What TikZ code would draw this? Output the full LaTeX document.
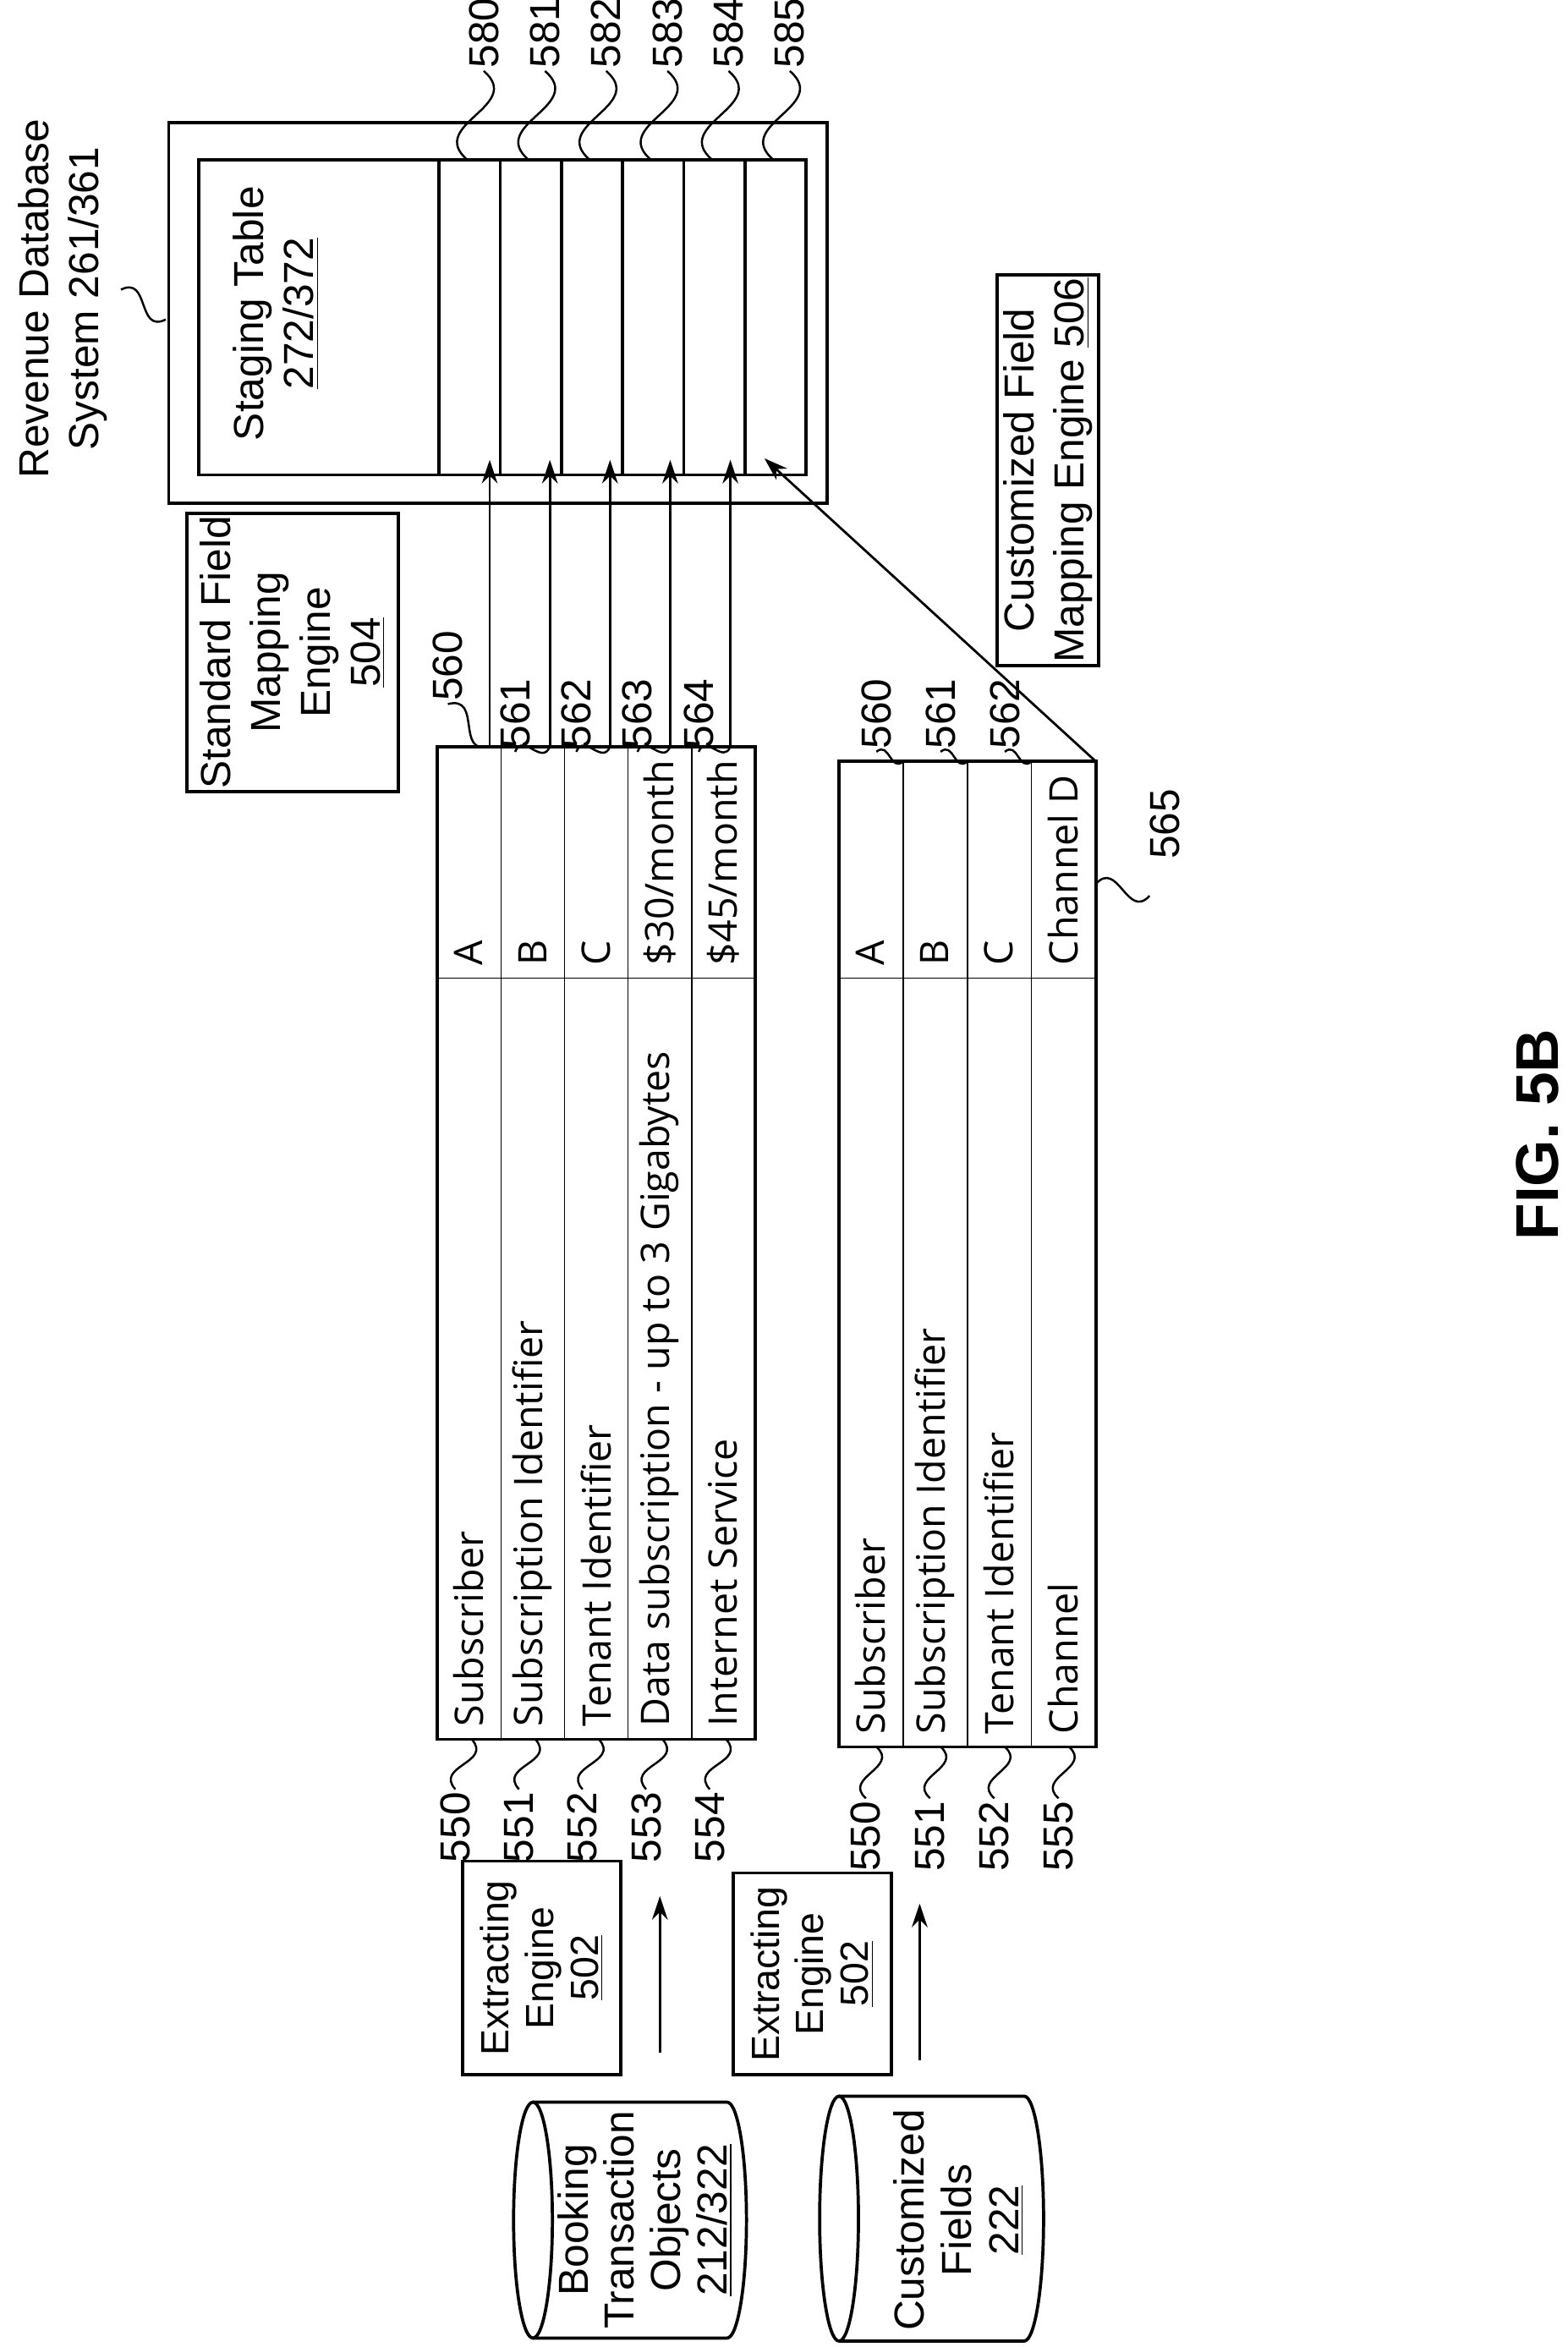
\documentclass[tikz,border=0pt]{standalone}
\usepackage{fontspec}
\setmainfont{Liberation Sans}
\newfontfamily\tabfont{Open Sans}
\usetikzlibrary{arrows.meta,calc}

\tikzset{
  box/.style={draw, line width=1.2pt},
  txt/.style={rotate=90, font=\fontsize{16}{19}\selectfont, align=center, inner sep=1pt},
  cell/.style={rotate=90, anchor=west, font=\tabfont\fontsize{15}{17}\selectfont, inner sep=3pt},
  num/.style={rotate=90, font=\fontsize{16}{18}\selectfont, inner sep=1pt},
  lead/.style={line width=0.8pt},
  flow/.style={-{Stealth[length=9pt,width=6pt]}, line width=0.9pt},
}
\newcommand{\squig}[2]{\draw[lead] (#1) .. controls ($(#1)!.6!60:(#2)$) and ($(#2)!.6!60:(#1)$) .. (#2);}

\begin{document}
\begin{tikzpicture}[x=0.02cm, y=-0.02cm]
  \useasboundingbox (0,0) rectangle (1050,1572);

  % Revenue database system with staging table
  \draw[box] (113,82) rectangle (554,337);
  \draw[box] (133,107) rectangle (540,318);
  \foreach \i in {0,...,5}
    \draw[box] (294+41*\i,107) rectangle (335+41*\i,318);
  \node[txt] (stage) at (185,210) {Staging Table\\\underline{272/372}};
  \node[txt] (rev) at (42,200) {Revenue Database\\System 261/361};
  \squig{81,194}{111,214}

  % staging column labels
  \foreach \n [count=\i from 0] in {580,...,585} {
    \node[num] (s\n) at (324+41*\i,22) {\n};
    \coordinate (c\n) at (313+41*\i,107);
    \squig{s\n.west}{c\n}
  }

  % mapping engines
  \node[box, txt, minimum width=3.62cm, minimum height=2.84cm] (std) at (196,437)
    {Standard Field\\Mapping\\Engine\\\underline{504}};
  \node[box, txt, minimum width=4.96cm, minimum height=1.36cm] (cust) at (702,315)
    {Customized Field\\Mapping Engine \underline{506}};

  % upper record table
  \draw[box] (293,500) rectangle (506,1165);
  \foreach \i in {1,...,4} \draw (293+42.6*\i,500) -- (293+42.6*\i,1165);
  \draw (293,655) -- (506,655);
  \foreach \name/\val [count=\i from 0] in {Subscriber/A, Subscription Identifier/B,
      Tenant Identifier/C, Data subscription - up to 3 Gigabytes/{\$30/month},
      Internet Service/{\$45/month}} {
    \node[cell] (v\i) at (314+42.6*\i,652) {\val};
    \node[cell] (n\i) at (314+42.6*\i,1162) {\name};
  }

  % arrows into staging table
  \foreach \i in {0,...,4} {
    \coordinate (t\i) at (328+40.3*\i,500);
    \coordinate (h\i) at (328+40.3*\i,308);
    \draw[flow] (t\i) -- (h\i);
  }
  \node[num] (u0) at (300,446) {560};
  \squig{u0.west}{t0}
  \foreach \n [count=\i] in {561,...,564} {
    \node[num] (u\i) at (304+41*\i,478) {\n};
    \squig{u\i.west}{t\i}
  }
  \foreach \n [count=\i from 0] in {550,...,554} {
    \node[num] (b\n) at (305+42.6*\i,1224) {\n};
    \coordinate (r\n) at (316+42.6*\i,1165);
    \squig{b\n.east}{r\n}
  }

  % lower record table
  \draw[box] (562,510) rectangle (734,1170);
  \foreach \i in {1,...,3} \draw (562+43*\i,510) -- (562+43*\i,1170);
  \draw (562,655) -- (734,655);
  \foreach \name/\val [count=\i from 0] in {Subscriber/A, Subscription Identifier/B,
      Tenant Identifier/C, Channel/Channel D} {
    \node[cell] (w\i) at (583+43*\i,652) {\val};
    \node[cell] (m\i) at (583+43*\i,1167) {\name};
  }
  \foreach \n [count=\i] in {560,561,562} {
    \node[num] (l\n) at (544+43*\i,478) {\n};
    \coordinate (e\n) at (562+43*\i,510);
    \squig{l\n.west}{e\n}
  }
  \node[num] (l565) at (780,552) {565};
  \coordinate (e565) at (734,592);
  \squig{e565}{770,600}
  \foreach \n [count=\i from 0] in {550,551,552,555} {
    \node[num] (d\n) at (580+43*\i,1230) {\n};
    \coordinate (f\n) at (587+43*\i,1170);
    \squig{d\n.east}{f\n}
  }
  \coordinate (ctop) at (734,510);
  \coordinate (chead) at (512,307);
  \draw[flow] (ctop) -- (chead);

  % extracting engines
  \node[box, txt, font=\fontsize{15}{17}\selectfont, minimum width=2.86cm, minimum height=2.12cm] (ext1) at (363,1318)
    {Extracting\\Engine\\\underline{502}};
  \node[box, txt, font=\fontsize{15}{17}\selectfont, minimum width=2.7cm, minimum height=2.12cm] (ext2) at (544,1322)
    {Extracting\\Engine\\\underline{502}};
  \draw[flow] (442,1375) -- (442,1270);
  \draw[flow] (616,1380) -- (616,1275);

  % data stores
  \foreach \cx/\cw/\ya/\yb in {344/156/1408/1566, 549/150/1404/1568} {
    \draw[box] (\cx+13,{(\ya+\yb)/2}) ellipse [x radius=13, y radius={(\yb-\ya)/2}];
    \draw[box] (\cx+13,\ya) -- (\cx+\cw-13,\ya)
      arc[start angle=-90, end angle=90, x radius=13, y radius={(\yb-\ya)/2}]
      -- (\cx+13,\yb);
  }
  \node[txt, font=\fontsize{16}{17.6}\selectfont] (book) at (432,1487)
    {Booking\\Transaction\\Objects\\\underline{212/322}};
  \node[txt, font=\fontsize{16}{18}\selectfont] (custf) at (642,1487)
    {Customized\\Fields\\\underline{222}};

  \node[rotate=90, font=\bfseries\fontsize{23}{27}\selectfont] (fig) at (1030,760) {FIG. 5B};
\end{tikzpicture}
\end{document}
